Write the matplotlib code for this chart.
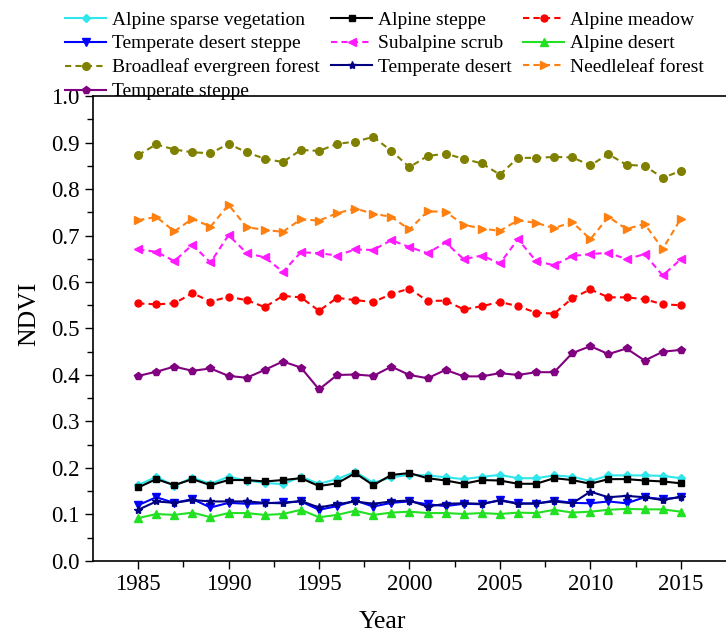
import numpy as np
import matplotlib.pyplot as plt

plt.rcParams['font.family'] = ['Liberation Serif', 'DejaVu Serif']

anos = np.arange(1985, 2016)

# NDVI médio anual por tipo de vegetação
alpine_sparse = [0.163, 0.181, 0.162, 0.179, 0.166, 0.181, 0.173, 0.168, 0.165, 0.181, 0.166, 0.176, 0.192, 0.168, 0.180,
                 0.185, 0.184, 0.180, 0.176, 0.181, 0.185, 0.178, 0.178, 0.184, 0.181, 0.172, 0.184, 0.184, 0.184, 0.183, 0.178]
alpine_steppe = [0.158, 0.176, 0.163, 0.176, 0.163, 0.174, 0.174, 0.171, 0.174, 0.178, 0.161, 0.167, 0.189, 0.163, 0.185,
                 0.189, 0.178, 0.173, 0.166, 0.174, 0.173, 0.166, 0.166, 0.178, 0.174, 0.166, 0.176, 0.176, 0.173, 0.171, 0.167]
alpine_meadow = [0.554, 0.552, 0.554, 0.576, 0.558, 0.568, 0.561, 0.546, 0.570, 0.567, 0.538, 0.566, 0.561, 0.557, 0.574,
                 0.586, 0.559, 0.560, 0.541, 0.548, 0.557, 0.548, 0.534, 0.532, 0.565, 0.584, 0.567, 0.567, 0.563, 0.552, 0.550]
temp_desert_steppe = [0.120, 0.137, 0.125, 0.133, 0.115, 0.125, 0.123, 0.124, 0.126, 0.128, 0.110, 0.118, 0.130, 0.117, 0.125,
                      0.128, 0.122, 0.118, 0.123, 0.122, 0.131, 0.124, 0.123, 0.130, 0.125, 0.124, 0.128, 0.124, 0.137, 0.133, 0.137]
subalpine_scrub = [0.670, 0.665, 0.645, 0.680, 0.642, 0.701, 0.662, 0.653, 0.622, 0.664, 0.662, 0.657, 0.670, 0.669, 0.690,
                   0.675, 0.662, 0.685, 0.649, 0.657, 0.640, 0.692, 0.645, 0.636, 0.656, 0.660, 0.663, 0.649, 0.660, 0.614, 0.649]
alpine_desert = [0.092, 0.101, 0.099, 0.104, 0.094, 0.103, 0.103, 0.099, 0.101, 0.110, 0.094, 0.099, 0.108, 0.099, 0.104,
                 0.106, 0.103, 0.103, 0.101, 0.103, 0.101, 0.104, 0.103, 0.110, 0.104, 0.106, 0.110, 0.112, 0.111, 0.111, 0.106]
broadleaf = [0.873, 0.896, 0.885, 0.879, 0.877, 0.897, 0.879, 0.865, 0.858, 0.884, 0.882, 0.897, 0.902, 0.912, 0.882,
             0.847, 0.871, 0.876, 0.865, 0.855, 0.831, 0.867, 0.867, 0.869, 0.868, 0.851, 0.875, 0.852, 0.850, 0.824, 0.839]
temp_desert = [0.110, 0.128, 0.125, 0.131, 0.128, 0.128, 0.128, 0.125, 0.124, 0.129, 0.115, 0.122, 0.128, 0.123, 0.128,
               0.130, 0.117, 0.123, 0.124, 0.123, 0.130, 0.123, 0.124, 0.128, 0.124, 0.149, 0.137, 0.140, 0.137, 0.131, 0.138]
needleleaf = [0.733, 0.740, 0.709, 0.736, 0.719, 0.766, 0.718, 0.712, 0.708, 0.735, 0.732, 0.748, 0.758, 0.747, 0.740,
              0.713, 0.752, 0.751, 0.723, 0.715, 0.710, 0.733, 0.727, 0.716, 0.729, 0.692, 0.740, 0.714, 0.725, 0.671, 0.736]
temp_steppe = [0.398, 0.407, 0.418, 0.409, 0.414, 0.398, 0.394, 0.411, 0.429, 0.416, 0.369, 0.400, 0.401, 0.398, 0.418,
               0.400, 0.393, 0.411, 0.397, 0.397, 0.404, 0.400, 0.406, 0.406, 0.447, 0.462, 0.445, 0.457, 0.431, 0.450, 0.454]

tracejado = (0, (3, 2))
series = [
    ('Alpine sparse vegetation', alpine_sparse, '#2ee6ec', '-', 'D', 4.5),
    ('Alpine steppe', alpine_steppe, 'black', '-', 's', 4.5),
    ('Alpine meadow', alpine_meadow, 'red', tracejado, 'o', 5),
    ('Temperate desert steppe', temp_desert_steppe, 'blue', '-', 'v', 6),
    ('Subalpine scrub', subalpine_scrub, '#ff1aff', tracejado, '<', 6),
    ('Alpine desert', alpine_desert, '#22e022', '-', '^', 6),
    ('Broadleaf evergreen forest', broadleaf, '#808000', tracejado, 'o', 5.5),
    ('Temperate desert', temp_desert, '#000080', '-', '*', 6),
    ('Needleleaf forest', needleleaf, '#ff8010', tracejado, '>', 6),
    ('Temperate steppe', temp_steppe, '#800080', '-', 'p', 6),
]

fig = plt.figure(figsize=(7.26, 6.36), dpi=100)
ax = fig.add_axes([0.128, 0.118, 0.872, 0.731])

linhas = {}
for nome, valores, cor, estilo, marcador, tam in series:
    l, = ax.plot(anos, valores, color=cor, linestyle=estilo, marker=marcador,
                 markersize=tam, linewidth=1.5, label=nome)
    linhas[nome] = l

ax.set_xlim(1982.5, 2017.5)
ax.set_ylim(0.0, 1.0)
ax.set_xticks(np.arange(1985, 2016, 5))
ax.set_xticks(np.arange(1987.5, 2016, 5), minor=True)
ax.set_yticks(np.arange(0, 1.01, 0.1))
ax.set_yticks(np.arange(0.05, 1.0, 0.1), minor=True)
ax.yaxis.set_major_formatter(plt.FormatStrFormatter('%.1f'))
ax.tick_params(which='both', direction='out', labelsize=16.5, width=1)
ax.tick_params(which='major', length=6)
ax.tick_params(which='minor', length=4)
ax.spines['right'].set_visible(False)
for lado in ['left', 'bottom', 'top']:
    ax.spines[lado].set_linewidth(1.2)

ax.set_xlabel('Year', fontsize=18.5)
ax.set_ylabel('NDVI', fontsize=18.5)
ax.xaxis.set_label_coords(0.458, -0.107)
ax.yaxis.set_label_coords(-0.083, 0.531)

# legenda em 3 colunas preenchida linha a linha
ordem = ['Alpine sparse vegetation', 'Temperate desert steppe', 'Broadleaf evergreen forest', 'Temperate steppe',
         'Alpine steppe', 'Subalpine scrub', 'Temperate desert',
         'Alpine meadow', 'Alpine desert', 'Needleleaf forest']
fig.legend([linhas[n] for n in ordem], ordem, ncol=3, loc='upper left',
           bbox_to_anchor=(0.079, 0.995), frameon=False, fontsize=14,
           handlelength=2.1, handletextpad=0.3, columnspacing=0.6,
           labelspacing=0.32, borderaxespad=0)

fig.savefig('out.png', dpi=100)
